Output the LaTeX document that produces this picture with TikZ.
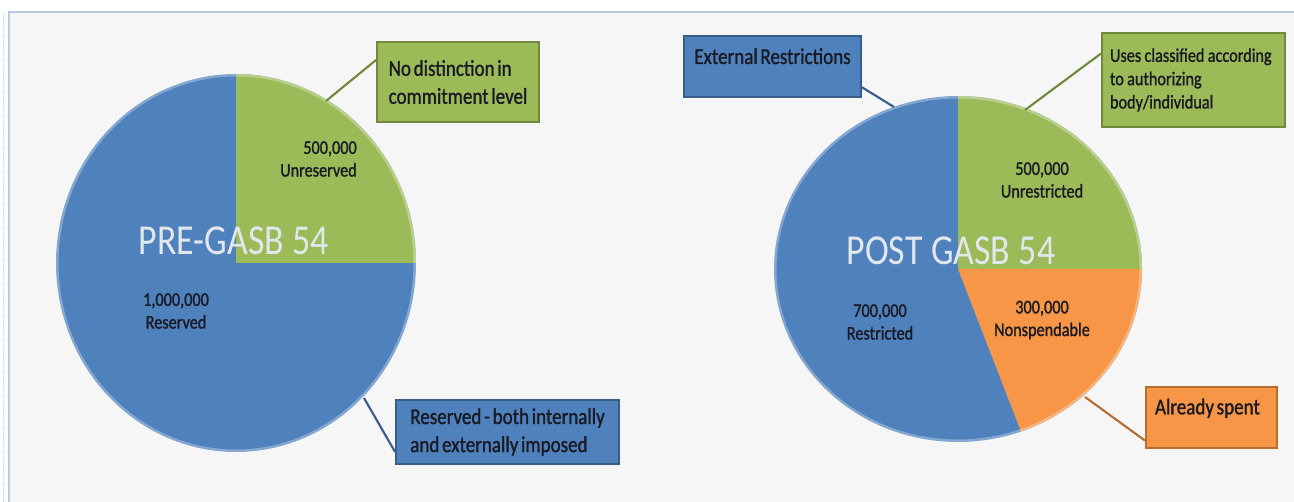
\documentclass[tikz,border=0pt]{standalone}
\usepackage{fontspec}
\setmainfont{Carlito}[FakeStretch=0.84]
\newfontfamily\inkfont{Carlito}[FakeStretch=0.84, FakeBold=1.2]
\usepackage{xcolor}
\usetikzlibrary{positioning}
\definecolor{chartblue}{RGB}{79,129,189}
\definecolor{chartgreen}{RGB}{155,187,89}
\definecolor{chartorange}{RGB}{247,150,70}
\definecolor{blueedge}{RGB}{56,93,138}
\definecolor{greenedge}{RGB}{113,137,63}
\definecolor{orangeedge}{RGB}{182,109,49}
\definecolor{panelfill}{RGB}{246,246,246}
\definecolor{panelline}{RGB}{185,200,218}
\definecolor{titlegray}{RGB}{226,231,236}
\definecolor{inktext}{RGB}{26,26,36}
\hyphenpenalty=10000
\exhyphenpenalty=10000
\newcommand{\tightgap}{\spaceskip 0.12em\relax}
\newcommand{\titlegap}{\spaceskip 0.2em\relax}
\newcommand{\usesgap}{\spaceskip 0.17em\relax}

\begin{document}
\begin{tikzpicture}[x=0.75pt, y=0.75pt,
    callout/.style={draw, line width=1.5pt, anchor=north west, align=left,
        inner xsep=7.5pt, text=inktext, execute at begin node=\tightgap,
        font=\inkfont\fontsize{17}{21}\selectfont},
    callline/.style={line width=1.6pt},
    slicelabel/.style={text=inktext, align=center, inner sep=0pt,
        font=\inkfont\fontsize{14.5}{17}\selectfont},
    charttitle/.style={text=titlegray, anchor=base, inner sep=0pt,
        font=\fontsize{32}{36}\selectfont\titlegap},
    rim/.style={white, opacity=0.3, line width=2.25pt}]

\useasboundingbox (0,0) rectangle (1294,502);

% Panel
\fill[white] (0,0) rectangle (1294,502);
\draw[panelline, fill=panelfill, line width=1.5pt] (9,-10) rectangle (1310,490);
\draw[gray!35, densely dotted] (3,490) -- (3,0);

% Pre-GASB 54
\begin{scope}[shift={(236,239)}]
    \fill[chartblue] (0,0) -- (0,189) arc[start angle=90, end angle=-270, x radius=180, y radius=189] -- cycle;
    \fill[chartgreen] (0,0) -- (0,189) arc[start angle=90, end angle=0, x radius=180, y radius=189] -- cycle;
    \draw[rim] (0,0) ellipse[x radius=179, y radius=188];

    \node[charttitle] (pretitle) at (-2,8) {PRE-GASB 54};
    \node[slicelabel, align=right, anchor=east] (unres) at (121,104) {500,000\\Unreserved};
    \node[slicelabel] (res) at (-60,-48) {1,000,000\\Reserved};

    \coordinate (tipnodist) at (90,162);
    \coordinate (tipres) at (128,-135);
\end{scope}

\node[callout, fill=chartgreen, draw=greenedge, minimum width=121.5pt, minimum height=60pt]
    (nodist) at (376,461) {No distinction in\\commitment level};
\node[callout, fill=chartblue, draw=blueedge, minimum width=167.25pt, minimum height=48pt]
    (reserved) at (395,103) {Reserved - both internally\\and externally imposed};

\draw[callline, greenedge] (tipnodist) -- (nodist.165);
\draw[callline, blueedge] (tipres) -- (reserved.190);

% Post GASB 54
\begin{scope}[shift={(958,233)}]
    \fill[chartblue] (0,0) -- (0,173) arc[start angle=90, end angle=-290, x radius=184, y radius=173] -- cycle;
    \fill[chartgreen] (0,0) -- (0,173) arc[start angle=90, end angle=0, x radius=184, y radius=173] -- cycle;
    \fill[chartorange] (0,0) -- (184,0) arc[start angle=0, end angle=-70, x radius=184, y radius=173] -- cycle;
    \draw[rim] (0,0) ellipse[x radius=183, y radius=172];

    \node[charttitle] (posttitle) at (-7,4) {POST GASB 54};
    \node[slicelabel] (unrestr) at (84,89) {500,000\\Unrestricted};
    \node[slicelabel] (restr) at (-78,-53) {700,000\\Restricted};
    \node[slicelabel] (nonsp) at (84,-51) {300,000\\Nonspendable};

    \coordinate (tipext) at (-64,162);
    \coordinate (tipuses) at (67,159);
    \coordinate (tipspent) at (127,-128);
\end{scope}

\node[callout, fill=chartblue, draw=blueedge, minimum width=132.75pt,
    inner ysep=9.5pt, text height=11.5pt, text depth=15.5pt]
    (extrestr) at (683,467) {External Restrictions};
\node[callout, fill=chartgreen, draw=greenedge, text width=125pt, inner xsep=6pt,
    minimum height=70.5pt, execute at begin node=\usesgap,
    font=\inkfont\fontsize{14.5}{17.5}\selectfont]
    (uses) at (1101,470) {Uses classified according\\to authorizing\\body/individual};
\node[callout, fill=chartorange, draw=orangeedge, text width=84.75pt, inner xsep=6.75pt,
    inner ysep=9pt, text height=11.5pt, text depth=16.5pt]
    (spent) at (1145,116) {Already spent};

\draw[callline, blueedge] (tipext) -- (extrestr.347);
\draw[callline, greenedge] (tipuses) -- (uses.164);
\draw[callline, orangeedge] (tipspent) -- (spent.199);

\end{tikzpicture}
\end{document}
